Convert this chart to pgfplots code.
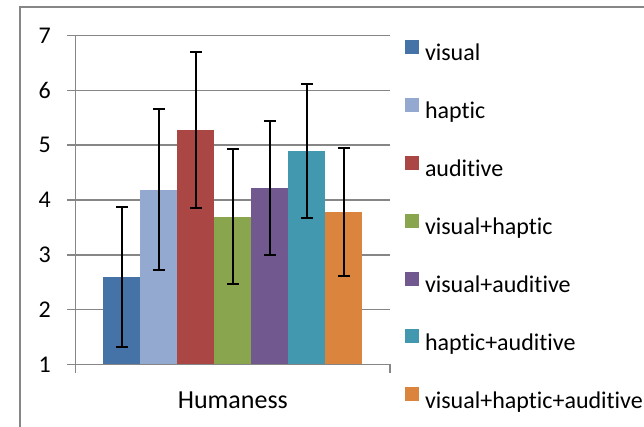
\documentclass[border=0pt]{standalone}
\usepackage{fontspec}
\setmainfont{Carlito}[Ligatures=NoCommon]
\usepackage{pgfplots}
\pgfplotsset{compat=1.18}
\definecolor{c1}{HTML}{4572A7}
\definecolor{c2}{HTML}{93A9CF}
\definecolor{c3}{HTML}{AA4643}
\definecolor{c4}{HTML}{89A54E}
\definecolor{c5}{HTML}{71588F}
\definecolor{c6}{HTML}{4198AF}
\definecolor{c7}{HTML}{DB843D}
\definecolor{gridc}{HTML}{868686}
\newcommand{\cf}{\fontsize{24bp}{29bp}\selectfont}
\begin{document}
\cf
\begin{tikzpicture}
\draw[gridc, line width=1.5bp] (20bp,420bp) rectangle (720bp,-60bp);
\begin{axis}[
  at={(75.7bp,62.7bp)}, anchor=south west,
  scale only axis, width=314.3bp, height=328.6bp,
  xmin=-0.5, xmax=0.5, ymin=1, ymax=7,
  ytick={1,...,7},
  xtick={-0.5,0.5}, xticklabels={},
  xlabel={Humaness},
  xlabel style={at={(axis description cs:0.5,0)}, anchor=base, yshift=-44bp, font=\fontsize{26bp}{30bp}\selectfont, inner sep=0pt},
  /pgf/number format/assume math mode=true,
  yticklabel style={font=\cf, anchor=east, inner sep=0pt, xshift=-16bp},
  ymajorgrids, grid style={gridc, line width=1.5bp},
  axis x line*=bottom, axis y line*=left,
  axis line style={gridc, line width=1.5bp},
  tick align=outside, major tick length=8.7bp,
  tick style={gridc, line width=1.5bp},
  ybar=0pt, bar width=36.96bp,
  legend image code/.code={\fill[#1] (0bp,0bp) rectangle (14bp,14bp); \path (20bp,0bp);},
  legend cell align=left,
  legend style={at={(axis description cs:1,1)}, anchor=north west, xshift=15bp, yshift=-4bp,
    draw=none, fill=none, inner sep=0pt, outer sep=0pt, row sep=36.95bp,
    font=\cf, nodes={inner sep=0pt, text height=14bp, text depth=0pt}},
  error bars/y dir=both, error bars/y explicit,
  error bars/error bar style={draw=black, line width=2bp},
  error bars/error mark options={draw=black, line width=2bp, mark size=6bp, rotate=90},
]
\addplot[fill=c1, draw=none] coordinates {(0,2.594) +- (0,1.281)};
\addplot[fill=c2, draw=none] coordinates {(0,4.183) +- (0,1.470)};
\addplot[fill=c3, draw=none] coordinates {(0,5.284) +- (0,1.421)};
\addplot[fill=c4, draw=none] coordinates {(0,3.696) +- (0,1.232)};
\addplot[fill=c5, draw=none] coordinates {(0,4.219) +- (0,1.226)};
\addplot[fill=c6, draw=none] coordinates {(0,4.894) +- (0,1.223)};
\addplot[fill=c7, draw=none] coordinates {(0,3.787) +- (0,1.171)};
\legend{visual, haptic, auditive, visual+haptic, visual+auditive, haptic+auditive, visual+haptic+auditive}
\end{axis}
\pgfresetboundingbox
\path[use as bounding box] (0,0) rectangle (644bp,427bp);
\end{tikzpicture}
\end{document}
